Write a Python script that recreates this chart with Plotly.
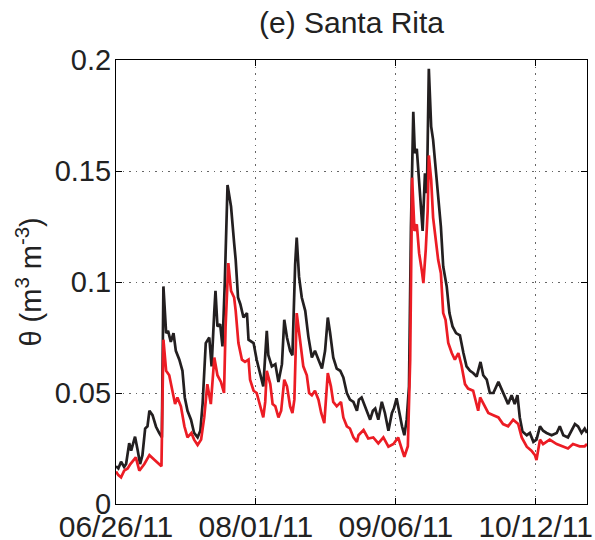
import pandas as pd
import plotly.graph_objects as go

# days since 06/26/11
black_days = [0.0, 0.6, 1.3, 2.1, 2.6, 3.4, 3.9, 4.9, 5.6, 6.2, 6.8, 7.5, 8.1, 8.6, 9.4, 10.3, 11.1, 11.8,
              12.2, 12.9, 13.4, 14.1, 14.8, 15.4, 16.3, 17.1, 17.7, 18.4, 19.3, 20.1, 21.0, 21.7, 22.3, 23.1,
              24.0, 24.6, 25.3, 25.6, 26.1, 26.8, 27.4, 28.0, 28.7, 29.6, 30.4, 30.8, 31.4, 32.0, 32.8, 33.7,
              34.1, 35.4, 36.2, 37.1, 37.9, 38.8, 39.2, 40.1, 41.0, 41.8, 42.7, 43.3, 44.0, 44.8, 45.4, 46.1,
              46.5, 47.1, 47.8, 48.7, 49.5, 50.4, 51.2, 52.1, 53.0, 53.8, 54.5, 55.1, 55.9, 56.8, 57.7, 58.5,
              59.4, 60.2, 61.1, 62.0, 62.5, 63.2, 64.1, 64.9, 65.4, 66.1, 66.7, 67.5, 68.4, 69.2, 70.1, 71.0,
              71.5, 72.2, 73.1, 73.6, 74.2, 74.8, 75.4, 75.9, 76.5, 76.9, 77.4, 77.8, 78.5, 78.9, 79.5, 80.0,
              80.5, 81.1, 81.6, 82.3, 82.9, 83.6, 84.2, 85.1, 85.8, 86.6, 87.5, 88.5, 89.4, 90.2, 91.1, 91.9,
              92.8, 93.8, 94.5, 95.4, 96.2, 97.1, 98.4, 99.2, 100.1, 100.9, 101.8, 102.6, 103.3, 103.9, 104.6,
              105.7, 106.5, 107.4, 108.2, 109.1, 109.9, 110.8, 112.1, 113.4, 114.2, 115.1, 116.3, 117.2, 118.1,
              118.9, 119.8, 120.6, 121.2]
black_vals = [0.017, 0.016, 0.019, 0.0167, 0.018, 0.0274, 0.024, 0.0303, 0.024, 0.018, 0.022, 0.034, 0.035,
              0.042, 0.040, 0.0348, 0.032, 0.030,
              0.098, 0.077, 0.078, 0.073, 0.077, 0.069, 0.065, 0.060, 0.048, 0.042, 0.038, 0.032, 0.030, 0.033,
              0.0455, 0.0725,
              0.075, 0.062, 0.087, 0.096, 0.080, 0.081, 0.071, 0.100, 0.1437, 0.134, 0.1175, 0.110, 0.093, 0.090,
              0.084, 0.086,
              0.074, 0.0725, 0.065, 0.059, 0.053, 0.078, 0.067, 0.062, 0.063, 0.055, 0.063, 0.083, 0.075, 0.069,
              0.067, 0.108,
              0.120, 0.1024, 0.093, 0.087, 0.0754, 0.066, 0.069, 0.065, 0.061, 0.069, 0.084, 0.077, 0.066, 0.061,
              0.060, 0.057,
              0.050, 0.047, 0.046, 0.042, 0.047, 0.048, 0.044, 0.041, 0.038, 0.042, 0.043, 0.038, 0.046, 0.041,
              0.033, 0.041,
              0.043, 0.0476, 0.039, 0.035, 0.031, 0.038, 0.053, 0.125, 0.1767, 0.158, 0.160, 0.150, 0.137, 0.123,
              0.149, 0.140,
              0.196, 0.170, 0.164, 0.150, 0.137, 0.125, 0.107, 0.098, 0.086, 0.080, 0.077, 0.076, 0.068, 0.062,
              0.060, 0.059,
              0.0574, 0.064, 0.058, 0.056, 0.050, 0.050, 0.055, 0.052, 0.048, 0.045, 0.049, 0.045, 0.049, 0.039,
              0.0326,
              0.031, 0.032, 0.028, 0.029, 0.035, 0.033, 0.032, 0.031, 0.032, 0.035, 0.031, 0.030, 0.033, 0.036,
              0.035, 0.032, 0.034, 0.032]

red_days = [0.0, 0.6, 1.3, 2.1, 3.0, 3.7, 5.1, 6.0, 7.3, 8.6, 9.8, 11.1, 11.7, 12.2, 12.9, 13.7, 14.6, 15.2,
            15.8, 16.7, 17.6, 18.4, 19.4, 20.1, 21.0, 21.9, 22.7, 23.5, 24.4, 25.3, 26.1, 27.0, 27.8, 28.2,
            28.9, 29.6, 30.4, 30.8, 31.5, 32.4, 33.2, 34.1, 34.5, 35.4, 36.2, 37.1, 37.9, 38.4, 38.8, 39.7,
            40.3, 41.0, 41.8, 42.5, 43.3, 44.0, 44.8, 45.4, 45.9, 46.5, 47.4, 48.2, 49.1, 49.7, 50.4, 51.2,
            52.1, 52.8, 53.6, 54.5, 55.3, 55.9, 56.8, 57.9, 58.5, 59.4, 60.2, 61.1, 62.0, 62.4, 63.7, 64.9,
            66.2, 67.5, 68.8, 70.1, 71.4, 72.6, 73.5, 74.2, 75.1, 75.7, 76.2, 76.8, 77.4, 78.0, 78.7, 79.1,
            79.7, 80.2, 80.5, 81.1, 81.6, 82.3, 82.9, 83.6, 84.2, 84.8, 85.5, 86.4, 87.2, 88.1, 88.9, 89.8,
            90.6, 91.9, 92.4, 93.2, 93.7, 94.9, 95.8, 97.1, 98.4, 99.6, 100.9, 102.2, 103.5, 104.4, 105.7,
            106.9, 107.8, 108.2, 109.1, 109.9, 111.6, 113.4, 115.1, 116.3, 117.6, 119.3, 120.6, 121.2]
red_vals = [0.0146, 0.013, 0.012, 0.015, 0.016, 0.018, 0.021, 0.015, 0.018, 0.022, 0.020, 0.018, 0.017, 0.074,
            0.060, 0.058, 0.051, 0.045,
            0.048, 0.044, 0.035, 0.030, 0.032, 0.029, 0.0266, 0.029, 0.039, 0.054, 0.045, 0.066, 0.058, 0.055,
            0.050, 0.080,
            0.1085, 0.096, 0.093, 0.087, 0.0725, 0.065, 0.064, 0.065, 0.056, 0.051, 0.050, 0.044, 0.039, 0.046,
            0.060, 0.054,
            0.045, 0.044, 0.039, 0.042, 0.056, 0.053, 0.044, 0.041, 0.047, 0.086, 0.0725, 0.062, 0.058, 0.050,
            0.049, 0.051,
            0.047, 0.041, 0.0364, 0.059, 0.053, 0.046, 0.044, 0.046, 0.039, 0.035, 0.034, 0.030, 0.028, 0.031,
            0.0333, 0.0295,
            0.030, 0.0273, 0.030, 0.0258, 0.027, 0.030, 0.025, 0.0213, 0.026, 0.065, 0.147, 0.123, 0.126, 0.113,
            0.105, 0.0995,
            0.1144, 0.132, 0.157, 0.146, 0.129, 0.118, 0.110, 0.104, 0.086, 0.083, 0.0725, 0.068, 0.065, 0.068,
            0.0625, 0.054,
            0.052, 0.051, 0.048, 0.042, 0.048, 0.044, 0.041, 0.040, 0.039, 0.036, 0.035, 0.038, 0.036, 0.030,
            0.0258,
            0.024, 0.022, 0.0198, 0.029, 0.027, 0.029, 0.027, 0.0258, 0.025, 0.027, 0.026, 0.026, 0.027]

start_date = "2011-06-26"
end_offset_days = 121.2
x_tick_dates = ["2011-06-26", "2011-08-01", "2011-09-06", "2011-10-12"]
x_tick_labels = ["06/26/11", "08/01/11", "09/06/11", "10/12/11"]
y_tick_vals = [0, 0.05, 0.1, 0.15, 0.2]
y_tick_labels = ["0", "0.05", "0.1", "0.15", "0.2"]

t0 = pd.Timestamp(start_date)
bx = t0 + pd.to_timedelta(black_days, unit="D")
rx = t0 + pd.to_timedelta(red_days, unit="D")

FONT = "Liberation Sans, Arial, Helvetica, sans-serif"
TXT = "#222222"

fig = go.Figure()
fig.add_trace(go.Scatter(x=bx, y=black_vals, mode="lines",
                         line=dict(color="#231f20", width=2.7), showlegend=False))
fig.add_trace(go.Scatter(x=rx, y=red_vals, mode="lines",
                         line=dict(color="#ec1c24", width=2.7), showlegend=False))

axis_common = dict(showline=True, linecolor="black", linewidth=1.2, mirror="all",
                   ticks="inside", ticklen=6, tickcolor="black", tickwidth=1,
                   showgrid=True, gridcolor="#666666", griddash="1.5px,5px", gridwidth=1,
                   zeroline=False, automargin=False)

fig.update_xaxes(type="date", range=[t0, t0 + pd.Timedelta(days=end_offset_days)],
                 tickvals=[pd.Timestamp(d) for d in x_tick_dates], ticktext=x_tick_labels,
                 tickfont=dict(family=FONT, size=30, color=TXT), ticklabelstandoff=-4,
                 **axis_common)
fig.update_yaxes(range=[0, 0.2], tickvals=y_tick_vals, ticktext=y_tick_labels,
                 tickfont=dict(family=FONT, size=29, color=TXT), ticklabelstandoff=-2,
                 title=dict(text="θ (m<sup>3</sup> m<sup>-3</sup>)",
                            font=dict(family=FONT, size=29, color=TXT), standoff=4),
                 **axis_common)

fig.update_layout(
    width=595, height=540,
    margin=dict(l=116, r=8, t=60, b=36),
    paper_bgcolor="white", plot_bgcolor="white",
    template="none",
    title=dict(text="(e) Santa Rita", x=0.5, xref="paper", xanchor="center",
               y=1 - 22 / 540, yref="container", yanchor="middle",
               font=dict(family=FONT, size=30, color=TXT)),
)

fig.write_html("out.html")
